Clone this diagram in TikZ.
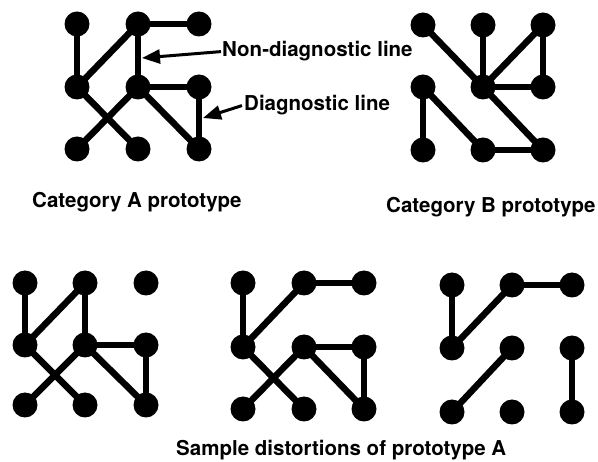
\documentclass[tikz,border=0pt]{standalone}
\usepackage{fontspec}
\setmainfont{TeX Gyre Heros}
\usepackage{tikz}
\usetikzlibrary{arrows.meta}

\begin{document}
\begin{tikzpicture}[
  x=1pt, y=-1pt,
  dot/.style={circle, fill, inner sep=0pt, minimum size=25pt},
  link/.style={line width=6.5pt},
  caption/.style={font=\bfseries\fontsize{20.5}{24}\selectfont, inner sep=0pt, anchor=base west},
  pointer/.style={-{Triangle[length=18pt, width=14pt]}, line width=3pt}
]
\useasboundingbox (0,0) rectangle (598,462);

% category A prototype
\foreach \x [count=\i from 0] in {77,138,199}
  \foreach \y [count=\j from 0] in {24,87,149}
    \node[dot] (a\i\j) at (\x,\y) {};
\foreach \p/\q in {00/01, 10/01, 10/20, 10/11, 11/21, 21/22, 11/22, 01/12, 11/02}
  \draw[link] (a\p.center) -- (a\q.center);

% category B prototype
\foreach \x [count=\i from 0] in {423,483,543}
  \foreach \y [count=\j from 0] in {25,87,150}
    \node[dot] (b\i\j) at (\x,\y) {};
\foreach \p/\q in {00/11, 10/11, 20/11, 20/21, 11/21, 11/22, 01/02, 01/12, 12/22}
  \draw[link] (b\p.center) -- (b\q.center);

% distortions of A
\foreach \x [count=\i from 0] in {25,85,146}
  \foreach \y [count=\j from 0] in {283,345,405}
    \node[dot] (c\i\j) at (\x,\y) {};
\foreach \p/\q in {00/01, 10/01, 10/11, 11/21, 21/22, 11/22, 01/12, 11/02}
  \draw[link] (c\p.center) -- (c\q.center);

\foreach \x [count=\i from 0] in {243,304,364}
  \foreach \y [count=\j from 0] in {283,347,409}
    \node[dot] (d\i\j) at (\x,\y) {};
\foreach \p/\q in {00/01, 10/01, 10/20, 11/21, 21/22, 11/22, 01/12, 11/02}
  \draw[link] (d\p.center) -- (d\q.center);

\foreach \x [count=\i from 0] in {452,512,572}
  \foreach \y [count=\j from 0] in {285,348,412}
    \node[dot] (e\i\j) at (\x,\y) {};
\foreach \p/\q in {00/01, 10/01, 10/20, 11/02, 21/22}
  \draw[link] (e\p.center) -- (e\q.center);

% labels
\node[caption] (nondiag) at (222,57) {Non-diagnostic line};
\node[caption] (diag) at (244,111) {Diagnostic line};
\node[caption] (capA) at (32,208) {Category A prototype};
\node[caption] (capB) at (386,213) {Category B prototype};
\node[caption] (capS) at (176,456) {Sample distortions of prototype A};

\coordinate (nondiagtip) at (142,58);
\coordinate (diagtip) at (203,118);
\draw[pointer] ([xshift=-1pt]nondiag.west) -- (nondiagtip);
\draw[pointer] ([xshift=-2pt]diag.west) -- (diagtip);

\end{tikzpicture}
\end{document}
